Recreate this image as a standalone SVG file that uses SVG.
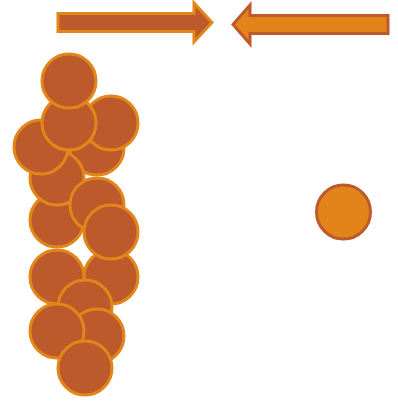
<svg xmlns="http://www.w3.org/2000/svg" width="398" height="404" viewBox="0 0 398 404">
<style>
.a{fill:#BD5A2C;stroke:#E3861A;stroke-width:3}
.b{fill:#E3841A;stroke:#BD5A2C;stroke-width:3}
</style>
<rect width="398" height="404" fill="#fff"/>
<g id="connectors">
<path id="arrow-right" class="a" d="M58,13.5H194V3L212,22.5L194,42V31.5H58Z"/>
<path id="arrow-left" class="b" d="M388,15.5H250V5L233,24.5L250,44V33.5H388Z"/>
</g>
<g id="n5"><circle class="a" cx="97" cy="148" r="27"/></g>
<g id="n3"><circle class="a" cx="111" cy="123" r="27"/></g>
<g id="n7"><circle class="a" cx="57" cy="220" r="27"/></g>
<g id="n6"><circle class="a" cx="57" cy="178" r="27"/></g>
<g id="n4"><circle class="a" cx="41" cy="147" r="27"/></g>
<g id="n2"><circle class="a" cx="69" cy="123" r="27"/></g>
<g id="n1"><circle class="a" cx="69" cy="81" r="27"/></g>
<g id="n8"><circle class="a" cx="97" cy="205" r="27"/></g>
<g id="n11"><circle class="a" cx="111" cy="277" r="27"/></g>
<g id="n9"><circle class="a" cx="111" cy="232" r="27"/></g>
<g id="n10"><circle class="a" cx="57" cy="277" r="27"/></g>
<g id="n12"><circle class="a" cx="85" cy="307" r="27"/></g>
<g id="n14"><circle class="a" cx="97" cy="336" r="27"/></g>
<g id="n13"><circle class="a" cx="57" cy="331" r="27"/></g>
<g id="n15"><circle class="a" cx="85" cy="368" r="27"/></g>
<g id="n16"><circle class="b" cx="343.5" cy="212" r="27"/></g>
</svg>
